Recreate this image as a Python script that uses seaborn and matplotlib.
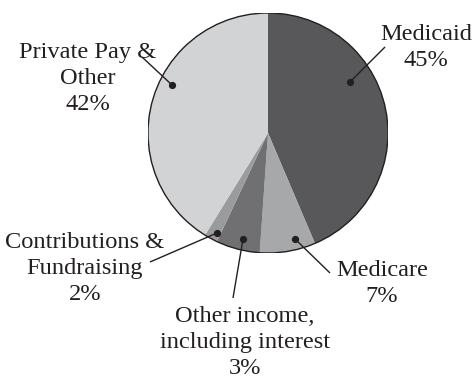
import matplotlib
matplotlib.use("Agg")
import matplotlib.pyplot as plt
import seaborn as sns
from matplotlib.patches import Circle

# ---- data ----
categories = ["Medicaid", "Medicare", "Other income,\nincluding interest",
              "Contributions &\nFundraising", "Private Pay &\nOther"]
shares = [43.6, 7.5, 5.9, 1.8, 41.2]          # slice sizes as drawn
pct_labels = ["45%", "7%", "3%", "2%", "42%"]  # printed percentages
colors = ["#58585a", "#a7a8aa", "#707072", "#9a9b9d", "#d2d3d5"]

sns.set_theme(style="white")
plt.rcParams["font.family"] = ["Liberation Serif", "DejaVu Serif"]

W, H = 472, 380
fig = plt.figure(figsize=(W / 100, H / 100), dpi=100)
cx, cy, r = 268, 133, 120
ax = fig.add_axes([(cx - r) / W, (H - cy - r) / H, 2 * r / W, 2 * r / H])

ax.pie(shares, colors=colors, startangle=90, counterclock=False,
       wedgeprops=dict(edgecolor="none", linewidth=0))
ax.add_patch(Circle((0, 0), 1, fill=False, lw=1.0, ec="#231f20"))
ax.set_xlim(-1, 1)
ax.set_ylim(-1, 1)
ax.set_aspect("equal")
ax.axis("off")

def d(px, py):
    return ((px - cx) / r, (cy - py) / r)

# layout: dot pixel, line end pixel, label center x, last-line baseline y
layout = [
    ((350, 82), (385, 47), (426, 66)),
    ((295, 239), (330, 273), (382, 302)),
    ((243, 239), (233, 298), (245, 374)),
    ((217, 233), (150, 262), (85, 300)),
    ((172, 85), (142, 57), (88, 110)),
]

for cat, pct, (dot, end, lab) in zip(categories, pct_labels, layout):
    dx, dy = d(*dot)
    ex, ey = d(*end)
    ax.plot([dx, ex], [dy, ey], color="#231f20", lw=1.0, clip_on=False,
            solid_capstyle="butt")
    ax.plot([dx], [dy], "o", color="#231f20", ms=4.2, clip_on=False)
    lx, ly = d(*lab)
    ax.text(lx, ly, f"{cat}\n{pct}", ha="center", va="baseline",
            multialignment="center", fontsize=17.6, color="#231f20",
            linespacing=1.32, clip_on=False)

fig.savefig("out.png", dpi=100)
